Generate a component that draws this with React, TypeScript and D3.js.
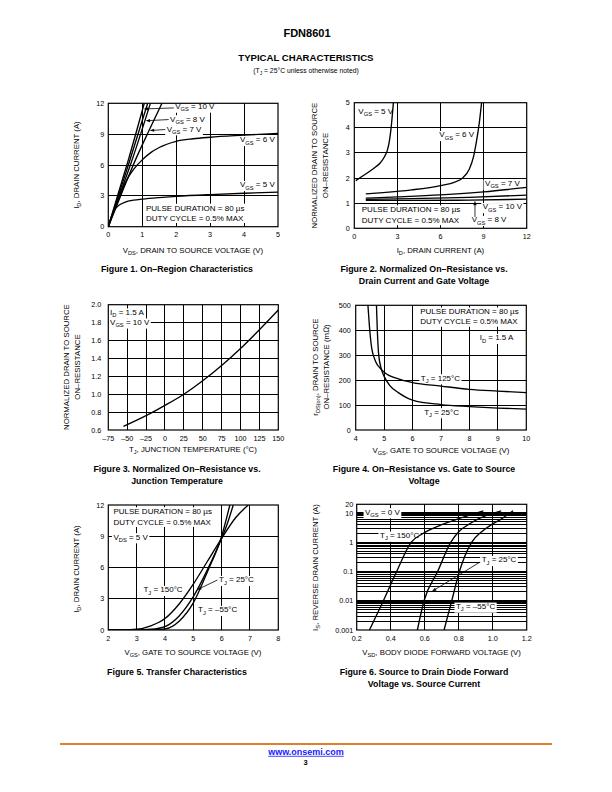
import React from 'react';
import * as d3 from 'd3';

type Pt = [number, number];
type Part = string | { s: string };

// ---------------- Figure 1: On-Region Characteristics ----------------
const fig1XTicks = [0, 1, 2, 3, 4, 5];
const fig1YTicks = [0, 3, 6, 9, 12];
const fig1Vgs10: Pt[] = [[0, 0], [0.3, 3.3], [0.6, 6.6], [1.06, 12]];
const fig1Vgs9: Pt[] = [[0, 0], [0.3, 3.05], [0.6, 6.1], [1.16, 12]];
const fig1Vgs8: Pt[] = [[0, 0], [0.3, 2.8], [0.65, 6.0], [1.24, 12]];
const fig1Vgs7: Pt[] = [[0, 0], [0.4, 3.3], [0.8, 6.5], [1.2, 9.35], [1.58, 12]];
const fig1Vgs6: Pt[] = [[0, 0], [0.25, 2.3], [0.5, 4.3], [0.75, 5.6], [1, 6.5], [1.25, 7.2], [1.5, 7.7], [2, 8.3], [2.5, 8.55], [3, 8.7], [4, 8.9], [5, 9.08]];
const fig1Vgs5: Pt[] = [[0, 0], [0.1, 1.05], [0.2, 1.7], [0.3, 2.05], [0.5, 2.4], [0.75, 2.58], [1, 2.68], [1.5, 2.83], [2, 2.95], [3, 3.12], [4, 3.25], [5, 3.36]];

// ---------------- Figure 2: Normalized On-Resistance vs Drain Current ----------------
const fig2XTicks = [0, 3, 6, 9, 12];
const fig2YTicks = [0, 1, 2, 3, 4, 5];
const fig2Vgs5: Pt[] = [[0.1, 1.9], [0.5, 2.05], [1, 2.24], [1.5, 2.45], [1.8, 2.6], [2.1, 2.85], [2.3, 3.1], [2.45, 3.5], [2.58, 4.1], [2.72, 5]];
const fig2Vgs6: Pt[] = [[0.8, 1.37], [2, 1.42], [4, 1.53], [6, 1.7], [7, 1.84], [7.5, 1.98], [8, 2.35], [8.3, 2.85], [8.5, 3.45], [8.7, 4.2], [8.86, 5]];
const fig2Vgs7: Pt[] = [[0.8, 1.2], [3, 1.25], [6, 1.33], [9, 1.45], [12, 1.63]];
const fig2Vgs8: Pt[] = [[0.8, 1.15], [4, 1.18], [8, 1.23], [12, 1.32]];
const fig2Vgs10: Pt[] = [[0.8, 1.11], [4, 1.11], [8, 1.12], [12, 1.16]];

// ---------------- Figure 3: Normalized On-Resistance vs Junction Temperature ----------------
const fig3XTicks = [-75, -50, -25, 0, 25, 50, 75, 100, 125, 150];
const fig3YTicks = [0.6, 0.8, 1.0, 1.2, 1.4, 1.6, 1.8, 2.0];
const fig3Rds: Pt[] = [[-55, 0.64], [-25, 0.76], [0, 0.875], [25, 1.0], [50, 1.15], [75, 1.32], [100, 1.51], [125, 1.72], [150, 1.94]];

// ---------------- Figure 4: On-Resistance vs Gate to Source Voltage ----------------
const fig4XTicks = [4, 5, 6, 7, 8, 9, 10];
const fig4YTicks = [0, 100, 200, 300, 400, 500];
const fig4Tj125: Pt[] = [[4.43, 500], [4.48, 420], [4.56, 330], [4.7, 275], [4.9, 243], [5.0, 232], [5.5, 205], [6, 190], [7, 176], [8, 163], [9, 156], [10, 150]];
const fig4Tj25: Pt[] = [[4.73, 500], [4.76, 400], [4.81, 300], [4.9, 245], [5.0, 215], [5.2, 178], [5.5, 150], [6, 120], [7, 102], [8, 94], [9, 88], [10, 84]];

// ---------------- Figure 5: Transfer Characteristics ----------------
const fig5XTicks = [2, 3, 4, 5, 6, 7, 8];
const fig5YTicks = [0, 3, 6, 9, 12];
const fig5Tj150: Pt[] = [[2, 0], [2.5, 0.01], [3, 0.07], [3.5, 0.4], [4, 1.1], [4.5, 2.5], [5, 4.4], [5.5, 6.6], [6, 8.8], [6.5, 10.8], [6.94, 12]];
const fig5Tj25: Pt[] = [[2, 0], [3, 0.01], [3.5, 0.07], [4, 0.33], [4.5, 1.35], [5, 3.2], [5.5, 5.8], [6, 8.8], [6.2, 10.2], [6.41, 12]];
const fig5TjM55: Pt[] = [[2, 0], [3.5, 0.01], [4, 0.1], [4.5, 0.85], [5, 2.6], [5.5, 5.6], [6, 9.0], [6.29, 12]];

// ---------------- Figure 6: Source to Drain Diode Forward Voltage ----------------
const fig6XTicks = [0.2, 0.4, 0.6, 0.8, 1.0, 1.2];
const fig6YTicks = [0.001, 0.01, 0.1, 1, 10, 20];
const fig6Tj150: Pt[] = [[0.275, 0.001], [0.357, 0.01], [0.435, 0.1], [0.52, 1], [0.59, 2.0], [0.68, 3.6], [0.75, 5.1], [0.85, 8.0], [0.945, 12]];
const fig6Tj25: Pt[] = [[0.557, 0.001], [0.596, 0.01], [0.676, 0.1], [0.753, 1], [0.8, 2.3], [0.87, 4.5], [0.925, 6.7], [1.0, 9.8], [1.05, 12]];
const fig6TjM55: Pt[] = [[0.714, 0.001], [0.759, 0.01], [0.804, 0.1], [0.876, 1], [0.935, 2.3], [1.0, 4.3], [1.045, 6], [1.12, 12]];

// ---------------- helpers ----------------
const FONT = '"Liberation Sans", Arial, Helvetica, sans-serif';
const SUB = 0.72;
const LAB = 8;     // in-chart labels
const AX = 7.8;    // axis titles
const CAP = 8.8;   // figure captions
const TICK = 7.2;  // tick labels

let measureCtx: CanvasRenderingContext2D | null = null;
function tw(s: string, size: number, bold: boolean): number {
  if (!measureCtx && typeof document !== 'undefined') {
    measureCtx = document.createElement('canvas').getContext('2d');
  }
  if (!measureCtx) return s.length * size * 0.56;
  measureCtx.font = `${bold ? 'bold ' : ''}${size}px "Liberation Sans", Arial, sans-serif`;
  return measureCtx.measureText(s).width;
}

function Txt(props: {
  x: number; y: number; parts: Part[]; size?: number; anchor?: 'start' | 'middle' | 'end';
  bold?: boolean; bg?: boolean; fill?: string;
}) {
  const { x, y, parts, size = LAB, anchor = 'start', bold = false, bg = false, fill = '#000' } = props;
  const ws = parts.map(p => (typeof p === 'string' ? tw(p, size, bold) : tw(p.s, size * SUB, bold)));
  const total = ws.reduce((a, b) => a + b, 0);
  const left = anchor === 'start' ? x : anchor === 'middle' ? x - total / 2 : x - total;
  const hasSub = parts.some(p => typeof p !== 'string');
  const kids: React.ReactNode[] = [];
  let down = false;
  parts.forEach((p, i) => {
    if (typeof p === 'string') {
      kids.push(<tspan key={i} fontSize={size} dy={down ? -size * 0.3 : undefined}>{p}</tspan>);
      down = false;
    } else {
      kids.push(<tspan key={i} fontSize={size * SUB} dy={down ? undefined : size * 0.3}>{p.s}</tspan>);
      down = true;
    }
  });
  return (
    <g>
      {bg && (
        <rect x={left - 1.5} y={y - size * 0.8} width={total + 3}
          height={size * 1.05 + (hasSub ? size * 0.22 : 0)} fill="#fff" />
      )}
      <text x={left} y={y} fontFamily={FONT} fontSize={size} fontWeight={bold ? 'bold' : 'normal'}
        fill={fill} style={{ whiteSpace: 'pre' }}>{kids}</text>
    </g>
  );
}

function Block(props: { x: number; y: number; lines: Part[][]; size?: number; lh?: number }) {
  const { x, y, lines, size = LAB, lh = 10 } = props;
  const w = Math.max(...lines.map(l => l.reduce((a: number, p) => a + (typeof p === 'string' ? tw(p, size, false) : tw(p.s, size * SUB, false)), 0)));
  return (
    <g>
      <rect x={x - 2} y={y - size * 0.85} width={w + 4} height={lh * (lines.length - 1) + size * 1.15} fill="#fff" />
      {lines.map((l, i) => <Txt key={i} x={x} y={y + i * lh} parts={l} size={size} />)}
    </g>
  );
}

function Arrow({ x1, y1, x2, y2 }: { x1: number; y1: number; x2: number; y2: number }) {
  const ang = Math.atan2(y2 - y1, x2 - x1);
  const L = 4.5, W = 1.6;
  const bx = x2 - L * Math.cos(ang), by = y2 - L * Math.sin(ang);
  const px = -Math.sin(ang) * W, py = Math.cos(ang) * W;
  return (
    <g>
      <line x1={x1} y1={y1} x2={bx} y2={by} stroke="#000" strokeWidth={0.8} />
      <polygon points={`${x2},${y2} ${bx + px},${by + py} ${bx - px},${by - py}`} fill="#000" />
    </g>
  );
}

function RotTxt(props: { cx: number; cy: number; parts: Part[]; size?: number }) {
  const { cx, cy, parts, size = AX } = props;
  return (
    <g transform={`translate(${cx + size * 0.36},${cy}) rotate(-90)`}>
      <Txt x={0} y={0} parts={parts} size={size} anchor="middle" />
    </g>
  );
}

function Plot(props: {
  id: string; x: any; y: any; xGrid: number[]; yGrid: number[]; majorY?: number[];
  xTicks: number[]; yTicks: number[]; xFmt: (v: number) => string; yFmt: (v: number) => string;
  series: Pt[][]; yGap?: number; children?: React.ReactNode;
}) {
  const { id, x, y, xGrid, yGrid, majorY = [], xTicks, yTicks, xFmt, yFmt, series, yGap = 4.5, children } = props;
  const [x0, x1] = x.range();
  const [yb, yt] = y.range();
  const line = d3.line<Pt>().x(d => x(d[0])).y(d => y(d[1])).curve(d3.curveMonotoneX);
  return (
    <g>
      <defs>
        <clipPath id={id}><rect x={x0} y={yt} width={x1 - x0} height={yb - yt} /></clipPath>
      </defs>
      <rect x={x0} y={yt} width={x1 - x0} height={yb - yt} fill="#fff" />
      <g shapeRendering="crispEdges">
        {xGrid.map((v, i) => (
          <line key={'gx' + i} x1={x(v)} x2={x(v)} y1={yt} y2={yb} stroke="#000" strokeWidth={1} />
        ))}
        {yGrid.map((v, i) => (
          <line key={'gy' + i} x1={x0} x2={x1} y1={y(v)} y2={y(v)} stroke="#000"
            strokeWidth={majorY.includes(v) ? 1.6 : 1} />
        ))}
      </g>
      {children}
      <g clipPath={`url(#${id})`}>
        {series.map((s, i) => (
          <path key={'s' + i} d={line(s) || ''} fill="none" stroke="#000" strokeWidth={1.35} />
        ))}
      </g>
      <rect x={x0} y={yt} width={x1 - x0} height={yb - yt} fill="none" stroke="#000" strokeWidth={1.2} />
      {xTicks.map((v, i) => (
        <text key={'tx' + i} x={x(v)} y={yb + 10.5} fontFamily={FONT} fontSize={TICK} textAnchor="middle">{xFmt(v)}</text>
      ))}
      {yTicks.map((v, i) => (
        <text key={'ty' + i} x={x0 - yGap} y={y(v) + 2.5} fontFamily={FONT} fontSize={TICK} textAnchor="end">{yFmt(v)}</text>
      ))}
    </g>
  );
}

const dash = (v: number) => (v < 0 ? '\u2013' + Math.abs(v) : String(v));
const VGS = (v: string): Part[] => ['V', { s: 'GS' }, ` = ${v} V`];
const TJ = (v: string): Part[] => ['T', { s: 'J' }, ` = ${v}\u00B0C`];
const PULSE: Part[][] = [['PULSE DURATION = 80 \u00B5s'], ['DUTY CYCLE = 0.5% MAX']];

export default function App() {
  const f1x = d3.scaleLinear().domain([0, 5]).range([108.3, 278]);
  const f1y = d3.scaleLinear().domain([0, 12]).range([226.7, 103.3]);
  const f2x = d3.scaleLinear().domain([0, 12]).range([354.3, 526.7]);
  const f2y = d3.scaleLinear().domain([0, 5]).range([228.3, 102.7]);
  const f3x = d3.scaleLinear().domain([-75, 150]).range([108.3, 278.3]);
  const f3y = d3.scaleLinear().domain([0.6, 2.0]).range([430, 304.7]);
  const f4x = d3.scaleLinear().domain([4, 10]).range([355.7, 526.3]);
  const f4y = d3.scaleLinear().domain([0, 500]).range([430, 305.3]);
  const f5x = d3.scaleLinear().domain([2, 8]).range([108.3, 278.3]);
  const f5y = d3.scaleLinear().domain([0, 12]).range([630, 505]);
  const f6x = d3.scaleLinear().domain([0.2, 1.2]).range([356.7, 526.7]);
  const f6y = d3.scaleLog().domain([0.001, 20]).range([630, 504.3]);
  const f6Grid: number[] = [];
  for (let e = -3; e <= 1; e++) {
    for (let m = 1; m <= 9; m++) {
      const v = +(m * Math.pow(10, e)).toPrecision(3);
      if (v > 0.001 && v < 20) f6Grid.push(v);
    }
  }

  const LC = 177, RC = 424;

  return (
    <svg width={612} height={792} viewBox="0 0 612 792"
      style={{ position: 'absolute', left: 0, top: 0, background: '#fff' }}>
      <rect width={612} height={792} fill="#fff" />

      {/* Header */}
      <Txt x={307} y={37} parts={['FDN8601']} size={11} bold anchor="middle" />
      <Txt x={306} y={61} parts={['TYPICAL CHARACTERISTICS']} size={9.6} bold anchor="middle" />
      <Txt x={306} y={72.5} parts={['(T', { s: 'J' }, ' = 25\u00B0C unless otherwise noted)']} size={6.8} anchor="middle" />

      {/* ===== Figure 1 ===== */}
      <Plot id="c1" x={f1x} y={f1y} xGrid={fig1XTicks.slice(1, -1)} yGrid={fig1YTicks.slice(1, -1)}
        xTicks={fig1XTicks} yTicks={fig1YTicks} xFmt={String} yFmt={String}
        series={[fig1Vgs10, fig1Vgs9, fig1Vgs8, fig1Vgs7, fig1Vgs6, fig1Vgs5]} yGap={4}>
        <Txt x={f1x(1.97)} y={f1y(11.45)} parts={VGS('10')} bg />
        <Txt x={f1x(1.82)} y={f1y(10.22)} parts={VGS('8')} bg />
        <Txt x={f1x(1.72)} y={f1y(9.25)} parts={VGS('7')} bg />
        <Txt x={f1x(3.88)} y={f1y(8.21)} parts={VGS('6')} bg />
        <Txt x={f1x(3.88)} y={f1y(3.83)} parts={VGS('5')} bg />
        <Block x={f1x(1.11)} y={f1y(1.57)} lines={PULSE} />
        <Arrow x1={f1x(1.93)} y1={f1y(11.55)} x2={f1x(1.04)} y2={f1y(11.45)} />
        <Arrow x1={f1x(1.78)} y1={f1y(10.42)} x2={f1x(1.1)} y2={f1y(10.3)} />
        <Arrow x1={f1x(1.68)} y1={f1y(9.45)} x2={f1x(1.22)} y2={f1y(9.35)} />
      </Plot>
      <Txt x={193} y={252.5} parts={['V', { s: 'DS' }, ', DRAIN TO SOURCE VOLTAGE (V)']} size={AX} anchor="middle" />
      <RotTxt cx={76} cy={165} parts={['I', { s: 'D' }, ', DRAIN CURRENT (A)']} />
      <Txt x={LC} y={272.3} parts={['Figure 1. On\u2013Region Characteristics']} size={CAP} bold anchor="middle" />

      {/* ===== Figure 2 ===== */}
      <Plot id="c2" x={f2x} y={f2y} xGrid={fig2XTicks.slice(1, -1)} yGrid={fig2YTicks.slice(1, -1)}
        xTicks={fig2XTicks} yTicks={fig2YTicks} xFmt={String} yFmt={String}
        series={[fig2Vgs5, fig2Vgs6, fig2Vgs7, fig2Vgs8, fig2Vgs10]} yGap={4.5}>
        <Txt x={f2x(0.28)} y={f2y(4.55)} parts={VGS('5')} bg />
        <Txt x={f2x(5.92)} y={f2y(3.62)} parts={VGS('6')} bg />
        <Txt x={f2x(9.1)} y={f2y(1.68)} parts={VGS('7')} bg />
        <Txt x={f2x(8.94)} y={f2y(0.75)} parts={VGS('10')} bg />
        <Txt x={f2x(8.17)} y={f2y(0.24)} parts={VGS('8')} bg />
        <Block x={f2x(0.52)} y={f2y(0.64)} lines={PULSE} lh={10.5} />
        <Arrow x1={f2x(8.4)} y1={f2y(0.45)} x2={f2x(8.4)} y2={f2y(1.1)} />
      </Plot>
      <Txt x={440.5} y={252.5} parts={['I', { s: 'D' }, ', DRAIN CURRENT (A)']} size={AX} anchor="middle" />
      <RotTxt cx={314} cy={165.5} parts={['NORMALIZED DRAIN TO SOURCE']} />
      <RotTxt cx={325} cy={165.5} parts={['ON\u2013RESISTANCE']} />
      <Txt x={RC} y={272.3} parts={['Figure 2. Normalized On\u2013Resistance vs.']} size={CAP} bold anchor="middle" />
      <Txt x={RC} y={284} parts={['Drain Current and Gate Voltage']} size={CAP} bold anchor="middle" />

      {/* ===== Figure 3 ===== */}
      <Plot id="c3" x={f3x} y={f3y} xGrid={fig3XTicks.slice(1, -1)} yGrid={fig3YTicks.slice(1, -1)}
        xTicks={fig3XTicks} yTicks={fig3YTicks} xFmt={dash} yFmt={d3.format('.1f')}
        series={[fig3Rds]} yGap={7}>
        <Txt x={f3x(-72.7)} y={f3y(1.887)} parts={['I', { s: 'D' }, ' = 1.5 A']} bg />
        <Txt x={f3x(-72.7)} y={f3y(1.775)} parts={VGS('10')} bg />
      </Plot>
      <Txt x={193} y={451.5} parts={['T', { s: 'J' }, ', JUNCTION TEMPERATURE (\u00B0C)']} size={AX} anchor="middle" />
      <RotTxt cx={66} cy={367} parts={['NORMALIZED DRAIN TO SOURCE']} />
      <RotTxt cx={77} cy={367} parts={['ON\u2013RESISTANCE']} />
      <Txt x={LC} y={471.8} parts={['Figure 3. Normalized On\u2013Resistance vs.']} size={CAP} bold anchor="middle" />
      <Txt x={LC} y={483.5} parts={['Junction Temperature']} size={CAP} bold anchor="middle" />

      {/* ===== Figure 4 ===== */}
      <Plot id="c4" x={f4x} y={f4y} xGrid={fig4XTicks.slice(1, -1)} yGrid={fig4YTicks.slice(1, -1)}
        xTicks={fig4XTicks} yTicks={fig4YTicks} xFmt={String} yFmt={String}
        series={[fig4Tj125, fig4Tj25]} yGap={5}>
        <Block x={f4x(6.27)} y={f4y(464)} lines={PULSE} />
        <Txt x={f4x(8.36)} y={f4y(360)} parts={['I', { s: 'D' }, ' = 1.5 A']} bg />
        <Txt x={f4x(6.29)} y={f4y(198)} parts={TJ('125')} bg />
        <Txt x={f4x(6.41)} y={f4y(62)} parts={TJ('25')} bg />
      </Plot>
      <Txt x={441} y={452.5} parts={['V', { s: 'GS' }, ', GATE TO SOURCE VOLTAGE (V)']} size={AX} anchor="middle" />
      <RotTxt cx={315} cy={367} parts={['r', { s: 'DS(on)' }, ', DRAIN TO SOURCE']} />
      <RotTxt cx={326} cy={367} parts={['ON\u2013RESISTANCE (m\u2126)']} />
      <Txt x={RC} y={471.8} parts={['Figure 4. On\u2013Resistance vs. Gate to Source']} size={CAP} bold anchor="middle" />
      <Txt x={RC} y={483.5} parts={['Voltage']} size={CAP} bold anchor="middle" />

      {/* ===== Figure 5 ===== */}
      <Plot id="c5" x={f5x} y={f5y} xGrid={fig5XTicks.slice(1, -1)} yGrid={fig5YTicks.slice(1, -1)}
        xTicks={fig5XTicks} yTicks={fig5YTicks} xFmt={String} yFmt={String}
        series={[fig5Tj150, fig5Tj25, fig5TjM55]} yGap={4}>
        <Block x={f5x(2.18)} y={f5y(11.13)} lines={PULSE} lh={10.5} />
        <Txt x={f5x(2.18)} y={f5y(8.68)} parts={['V', { s: 'DS' }, ' = 5 V']} bg />
        <Txt x={f5x(3.24)} y={f5y(3.62)} parts={TJ('150')} bg />
        <Txt x={f5x(5.91)} y={f5y(4.58)} parts={TJ('25')} bg />
        <Txt x={f5x(5.17)} y={f5y(1.7)} parts={TJ('\u201355')} bg />
        <Arrow x1={f5x(5.85)} y1={f5y(4.8)} x2={f5x(5.13)} y2={f5y(3.85)} />
      </Plot>
      <Txt x={193} y={655} parts={['V', { s: 'GS' }, ', GATE TO SOURCE VOLTAGE (V)']} size={AX} anchor="middle" />
      <RotTxt cx={76} cy={569} parts={['I', { s: 'D' }, ', DRAIN CURRENT (A)']} />
      <Txt x={LC} y={675.2} parts={['Figure 5. Transfer Characteristics']} size={CAP} bold anchor="middle" />

      {/* ===== Figure 6 ===== */}
      <Plot id="c6" x={f6x} y={f6y} xGrid={fig6XTicks.slice(1, -1)} yGrid={f6Grid} majorY={[0.01, 0.1, 1, 10]}
        xTicks={fig6XTicks} yTicks={fig6YTicks} xFmt={d3.format('.1f')} yFmt={String}
        series={[fig6Tj150, fig6Tj25, fig6TjM55]} yGap={3.5}>
        <Txt x={f6x(0.249)} y={f6y(8.9)} parts={VGS('0')} bg />
        <Txt x={f6x(0.337)} y={f6y(1.41)} parts={TJ('150')} bg />
        <Txt x={f6x(0.935)} y={f6y(0.207)} parts={TJ('25')} bg />
        <Txt x={f6x(0.784)} y={f6y(0.00524)} parts={TJ('\u201355')} bg />
        <Arrow x1={f6x(0.925)} y1={f6y(0.21)} x2={f6x(0.643)} y2={f6y(0.021)} />
      </Plot>
      <Txt x={441.7} y={654.5} parts={['V', { s: 'SD' }, ', BODY DIODE FORWARD VOLTAGE (V)']} size={AX} anchor="middle" />
      <RotTxt cx={315} cy={567.5} parts={['I', { s: 'S' }, ', REVERSE DRAIN CURRENT (A)']} />
      <Txt x={RC} y={675.2} parts={['Figure 6. Source to Drain Diode Forward']} size={CAP} bold anchor="middle" />
      <Txt x={RC} y={686.9} parts={['Voltage vs. Source Current']} size={CAP} bold anchor="middle" />

      {/* Footer */}
      <line x1={60} x2={552} y1={744} y2={744} stroke="#D9822B" strokeWidth={2} />
      <Txt x={306} y={755} parts={['www.onsemi.com']} size={9} bold anchor="middle" fill="#1a1aff" />
      <line x1={306 - tw('www.onsemi.com', 9, true) / 2} x2={306 + tw('www.onsemi.com', 9, true) / 2}
        y1={756.3} y2={756.3} stroke="#1a1aff" strokeWidth={0.8} />
      <Txt x={305.5} y={765} parts={['3']} size={7.5} bold anchor="middle" />
    </svg>
  );
}
